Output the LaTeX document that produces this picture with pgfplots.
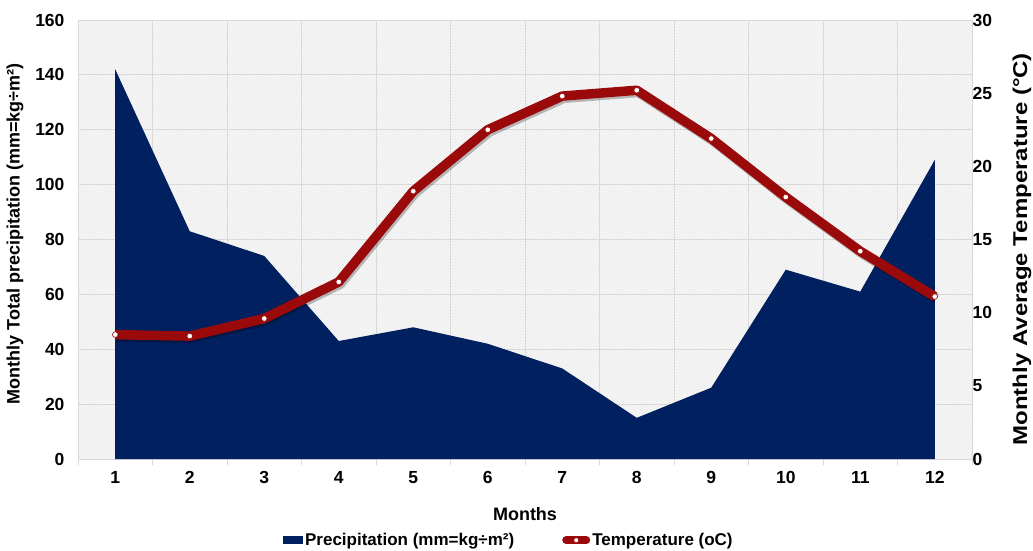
\documentclass[border=0pt]{standalone}
\usepackage{pgfplots}
\pgfplotsset{compat=1.18}
\usepackage{pgfplotstable}
\usepackage{graphicx}
\usepackage{fontspec}
\setmainfont{Liberation Sans}
\usetikzlibrary{patterns}

\definecolor{precip}{HTML}{002060}
\definecolor{temp}{HTML}{9A0A0A}
\definecolor{gridgray}{HTML}{D9D9D9}
\definecolor{plotbg}{HTML}{EDEDED}

\pgfplotstableread{
month precip temp
1  142 8.5
2  83  8.4
3  74  9.6
4  43  12.1
5  48  18.3
6  42  22.5
7  33  24.8
8  15  25.2
9  26  21.9
10 69  17.9
11 61  14.2
12 109 11.1
}\climate

\begin{document}
\begin{tikzpicture}
\pgfplotsset{
  base/.style={
    scale only axis,
    width=894pt, height=439pt,
    xmin=0.5, xmax=12.5, ymin=0,
    /pgf/number format/assume math mode=true,
    tick label style={font=\bfseries\fontsize{17.5}{20}\selectfont},
    axis line style={gridgray, line width=0.8pt},
    major tick length=0pt,
    label style={font=\bfseries},
  }
}
\begin{axis}[
    base,
    ymax=160,
    ytick={0,20,...,160},
    ytick pos=left,
    xtick={1,...,12},
    minor xtick={0.5,1.5,...,12.5},
    xtick pos=bottom,
    minor tick length=6pt,
    tick align=outside,
    minor x tick style={gridgray, line width=0.8pt},
    xminorgrids=true,
    ymajorgrids=true,
    grid style={gridgray, line width=0.8pt},
    axis background/.style={preaction={fill=plotbg}, pattern=north west lines, pattern color=white},
    xticklabel style={yshift=-9pt},
    yticklabel style={xshift=-10pt},
    xlabel={Months},
    xlabel style={font=\bfseries\fontsize{18}{20}\selectfont, at={(axis description cs:0.5,-0.125)}, anchor=center},
    ylabel={Monthly Total precipitation (mm=kg÷m²)},
    ylabel style={font=\bfseries\fontsize{18}{20}\selectfont, at={(axis description cs:-0.0705,0.513)}, anchor=center},
    legend style={draw=none, fill=none, at={(0.482,-0.185)}, anchor=center,
        font=\bfseries\fontsize{17}{19}\selectfont,
        /tikz/every even column/.append style={column sep=46pt}},
    legend columns=2,
    legend cell align=left,
]
\addplot[fill=precip, draw=none,
    legend image code/.code={\fill[precip] (0pt,-4pt) rectangle (20pt,4pt);}]
    table[x=month, y=precip] {\climate} \closedcycle;
\addlegendentry{Precipitation (mm=kg÷m²)}
\addlegendimage{legend image code/.code={
    \draw[temp, line width=8pt, line cap=round] (4pt,0pt) -- (24pt,0pt);
    \fill[white, draw=temp, line width=0.6pt] (14pt,0pt) circle (2.5pt);}}
\addlegendentry{Temperature (oC)}
\end{axis}

\begin{axis}[
    base,
    ymax=30,
    ytick={0,5,...,30},
    axis y line*=right,
    axis x line=none,
    yticklabel style={xshift=-3pt},
    ylabel={\scalebox{1.2}[1]{Monthly Average Temperature (°C)}},
    ylabel style={font=\bfseries\fontsize{20}{22}\selectfont, at={(axis description cs:1.056,0.478)}, anchor=center, rotate=0},
]
\addplot[black, opacity=0.25, line width=10pt, line join=round, shift={(1.5pt,-2pt)}, mark=none]
    table[x=month, y=temp] {\climate};
\addplot[temp, line width=9.5pt, line join=round, mark=*,
    mark options={fill=white, draw=temp, line width=0.6pt, solid}, mark size=2.8pt]
    table[x=month, y=temp] {\climate};
\end{axis}
\pgfresetboundingbox
\path[use as bounding box] (-78pt,-91pt) rectangle (955pt,459pt);
\end{tikzpicture}
\end{document}
